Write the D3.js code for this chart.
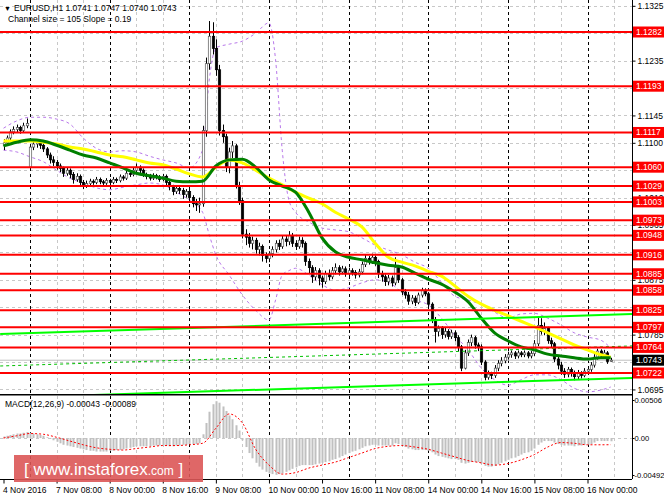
<!DOCTYPE html>
<html><head><meta charset="utf-8">
<script src="https://cdn.jsdelivr.net/npm/d3@7"></script>
<style>body{margin:0;background:#fff}svg{display:block}text{font-family:"Liberation Sans",Arial,sans-serif}</style>
</head><body><svg id="c" width="664" height="498"></svg>
<script>
// ---- data (EURUSD H1, from 4 Nov 2016 16:00) ----
const opens=[1.1095,1.1100,1.1108,1.1118,1.1122,1.1125,1.1120,1.1128,1.1060,1.1093,1.1098,1.1100,1.1096,1.1090,1.1080,1.1072,
1.1068,1.1062,1.1058,1.1050,1.1055,1.1048,1.1040,1.1045,1.1035,1.1030,1.1033,1.1037,1.1035,1.1040,1.1036,1.1034,
1.1038,1.1035,1.1040,1.1038,1.1044,1.1042,1.1050,1.1048,1.1055,1.1060,1.1055,1.1048,1.1045,1.1042,1.1046,1.1044,
1.1040,1.1045,1.1035,1.1028,1.1020,1.1025,1.1022,1.1015,1.1020,1.1010,1.1000,1.0998,1.1000,1.1120,1.1230,1.1275,
1.1255,1.1220,1.1120,1.1110,1.1060,1.1085,1.1095,1.1030,1.1005,1.0950,1.0945,1.0935,1.0940,1.0925,1.0930,1.0915,
1.0910,1.0918,1.0925,1.0935,1.0930,1.0942,1.0938,1.0948,1.0935,1.0930,1.0940,1.0935,1.0905,1.0895,1.0880,1.0890,
1.0878,1.0872,1.0885,1.0880,1.0890,1.0895,1.0888,1.0893,1.0885,1.0890,1.0887,1.0883,1.0888,1.0900,1.0910,1.0905,
1.0912,1.0905,1.0885,1.0880,1.0872,1.0878,1.0870,1.0895,1.0875,1.0855,1.0850,1.0840,1.0845,1.0838,1.0850,1.0858,
1.0852,1.0835,1.0810,1.0790,1.0795,1.0785,1.0790,1.0782,1.0788,1.0780,1.0765,1.0730,1.0755,1.0772,1.0780,1.0768,
1.0765,1.0740,1.0715,1.0720,1.0718,1.0730,1.0738,1.0742,1.0748,1.0752,1.0755,1.0750,1.0755,1.0752,1.0755,1.0750,
1.0754,1.0770,1.0800,1.0790,1.0795,1.0775,1.0770,1.0745,1.0735,1.0725,1.0720,1.0728,1.0722,1.0716,1.0722,1.0718,
1.0725,1.0728,1.0735,1.0748,1.0758,1.0750,1.0755,1.0741];
const highs=[1.1106,1.1112,1.1122,1.1127,1.1130,1.1128,1.1133,1.1140,1.1097,1.1104,1.1106,1.1104,1.1099,1.1093,1.1084,1.1078,
1.1072,1.1066,1.1061,1.1060,1.1058,1.1052,1.1050,1.1048,1.1039,1.1038,1.1041,1.1040,1.1044,1.1043,1.1039,1.1042,
1.1041,1.1044,1.1043,1.1048,1.1047,1.1054,1.1053,1.1060,1.1066,1.1063,1.1058,1.1051,1.1049,1.1050,1.1049,1.1047,
1.1049,1.1048,1.1038,1.1031,1.1030,1.1029,1.1026,1.1024,1.1025,1.1014,1.1008,1.1010,1.1128,1.1240,1.1300,1.1298,
1.1270,1.1228,1.1130,1.1115,1.1092,1.1103,1.1098,1.1036,1.1010,1.0958,1.0952,1.0946,1.0944,1.0936,1.0933,1.0920,
1.0922,1.0930,1.0940,1.0941,1.0948,1.0947,1.0955,1.0952,1.0940,1.0946,1.0945,1.0938,1.0910,1.0899,1.0896,1.0894,
1.0882,1.0890,1.0892,1.0896,1.0902,1.0899,1.0898,1.0897,1.0895,1.0894,1.0891,1.0893,1.0905,1.0916,1.0914,1.0918,
1.0915,1.0908,1.0890,1.0884,1.0883,1.0882,1.0912,1.0899,1.0878,1.0860,1.0855,1.0850,1.0849,1.0854,1.0862,1.0861,
1.0855,1.0838,1.0814,1.0800,1.0799,1.0796,1.0794,1.0793,1.0792,1.0784,1.0768,1.0760,1.0777,1.0785,1.0783,1.0772,
1.0769,1.0743,1.0726,1.0724,1.0735,1.0743,1.0748,1.0753,1.0757,1.0759,1.0758,1.0759,1.0758,1.0759,1.0758,1.0758,
1.0776,1.0815,1.0812,1.0805,1.0798,1.0780,1.0773,1.0750,1.0740,1.0730,1.0732,1.0731,1.0726,1.0727,1.0725,1.0730,
1.0733,1.0740,1.0753,1.0762,1.0761,1.0760,1.0758,1.0747];
const lows=[1.1088,1.1096,1.1104,1.1114,1.1117,1.1115,1.1117,1.1124,1.1055,1.1088,1.1092,1.1090,1.1085,1.1075,1.1066,1.1062,
1.1056,1.1052,1.1044,1.1046,1.1042,1.1033,1.1036,1.1028,1.1024,1.1026,1.1029,1.1031,1.1032,1.1032,1.1030,1.1031,
1.1029,1.1032,1.1034,1.1035,1.1038,1.1039,1.1044,1.1045,1.1052,1.1050,1.1044,1.1040,1.1038,1.1039,1.1040,1.1036,
1.1037,1.1030,1.1022,1.1014,1.1016,1.1016,1.1008,1.1010,1.1003,1.0994,1.0988,1.0985,1.0995,1.1110,1.1220,1.1245,
1.1210,1.1112,1.1100,1.1052,1.1050,1.1075,1.1025,1.0998,1.0943,1.0932,1.0928,1.0925,1.0918,1.0915,1.0905,1.0903,
1.0904,1.0912,1.0920,1.0924,1.0926,1.0930,1.0932,1.0929,1.0924,1.0926,1.0928,1.0898,1.0886,1.0870,1.0874,1.0866,
1.0862,1.0868,1.0874,1.0876,1.0884,1.0882,1.0884,1.0880,1.0880,1.0882,1.0877,1.0879,1.0884,1.0896,1.0900,1.0901,
1.0898,1.0878,1.0872,1.0865,1.0866,1.0864,1.0866,1.0870,1.0850,1.0844,1.0834,1.0835,1.0832,1.0835,1.0846,1.0848,
1.0830,1.0804,1.0772,1.0782,1.0778,1.0780,1.0777,1.0778,1.0774,1.0758,1.0725,1.0728,1.0750,1.0766,1.0762,1.0758,
1.0735,1.0710,1.0711,1.0712,1.0714,1.0725,1.0733,1.0738,1.0744,1.0747,1.0745,1.0746,1.0748,1.0748,1.0746,1.0746,
1.0750,1.0766,1.0785,1.0784,1.0770,1.0764,1.0740,1.0728,1.0719,1.0714,1.0715,1.0716,1.0710,1.0712,1.0713,1.0715,
1.0720,1.0724,1.0731,1.0744,1.0745,1.0746,1.0737,1.0740];
const closes=[1.1100,1.1108,1.1118,1.1122,1.1125,1.1120,1.1128,1.1132,1.1093,1.1098,1.1100,1.1096,1.1090,1.1080,1.1072,1.1068,
1.1062,1.1058,1.1050,1.1055,1.1048,1.1040,1.1045,1.1035,1.1030,1.1033,1.1037,1.1035,1.1040,1.1036,1.1034,1.1038,
1.1035,1.1040,1.1038,1.1044,1.1042,1.1050,1.1048,1.1055,1.1060,1.1055,1.1048,1.1045,1.1042,1.1046,1.1044,1.1040,
1.1045,1.1035,1.1028,1.1020,1.1025,1.1022,1.1015,1.1020,1.1010,1.1000,1.0998,1.1000,1.1120,1.1230,1.1275,1.1255,
1.1220,1.1120,1.1110,1.1060,1.1085,1.1095,1.1030,1.1005,1.0950,1.0945,1.0935,1.0940,1.0925,1.0930,1.0915,1.0910,
1.0918,1.0925,1.0935,1.0930,1.0942,1.0938,1.0948,1.0935,1.0930,1.0940,1.0935,1.0905,1.0895,1.0880,1.0890,1.0878,
1.0872,1.0885,1.0880,1.0890,1.0895,1.0888,1.0893,1.0885,1.0890,1.0887,1.0883,1.0888,1.0900,1.0910,1.0905,1.0912,
1.0905,1.0885,1.0880,1.0872,1.0878,1.0870,1.0895,1.0875,1.0855,1.0850,1.0840,1.0845,1.0838,1.0850,1.0858,1.0852,
1.0835,1.0810,1.0790,1.0795,1.0785,1.0790,1.0782,1.0788,1.0780,1.0765,1.0730,1.0755,1.0772,1.0780,1.0768,1.0765,
1.0740,1.0715,1.0720,1.0718,1.0730,1.0738,1.0742,1.0748,1.0752,1.0755,1.0750,1.0755,1.0752,1.0755,1.0750,1.0754,
1.0770,1.0800,1.0790,1.0795,1.0775,1.0770,1.0745,1.0735,1.0725,1.0720,1.0728,1.0722,1.0716,1.0722,1.0718,1.0725,
1.0728,1.0735,1.0748,1.0758,1.0750,1.0755,1.0741,1.0743];

// indicator readings, sampled every 4 bars
const indBars=[0,4,8,12,16,20,24,28,32,36,40,44,48,52,56,60,64,68,72,76,80,84,88,92,96,100,104,108,112,116,120,124,128,132,136,140,144,148,152,156,160,164,168,172,176,180,183];
const sma30=[1.1095,1.1101,1.1105,1.1103,1.1096,1.1088,1.1080,1.1075,1.1067,1.1059,1.1050,1.1046,1.1042,1.1037,1.1036,1.1037,1.1062,1.1072,1.1073,1.1060,1.1039,1.1029,1.1019,1.0986,1.0944,1.0921,1.0912,1.0908,1.0903,1.0899,1.0896,1.0886,1.0876,1.0868,1.0855,1.0839,1.0812,1.0788,1.0775,1.0765,1.0760,1.0753,1.0750,1.0747,1.0745,1.0747,1.0747];
const sma50=[1.1103,1.1103,1.1103,1.1101,1.1098,1.1093,1.1090,1.1085,1.1080,1.1077,1.1072,1.1067,1.1064,1.1057,1.1049,1.1044,1.1060,1.1072,1.1067,1.1055,1.1042,1.1031,1.1019,1.1009,1.1000,1.0986,1.0975,1.0962,1.0935,1.0912,1.0904,1.0898,1.0889,1.0881,1.0865,1.0848,1.0835,1.0825,1.0816,1.0807,1.0798,1.0788,1.0778,1.0768,1.0760,1.0752,1.0748];
const bbBars=[0,4,8,12,16,20,24,28,32,36,40,44,48,52,56,60,62,64,68,72,76,80,82,84,86,88,92,96,100,104,108,112,116,120,124,128,132,136,140,144,148,152,156,160,164,168,172,176,180,183];
const bbUpper=[1.1124,1.1136,1.1142,1.1142,1.1139,1.1131,1.1108,1.1091,1.1085,1.1087,1.1085,1.1078,1.1072,1.1067,1.1059,1.1088,1.1203,1.1256,1.1262,1.1267,1.1280,1.1297,1.1236,1.1088,1.1006,1.0986,1.0970,1.0960,1.0957,1.0954,1.0944,1.0932,1.0924,1.0916,1.0904,1.0894,1.0871,1.0848,1.0842,1.0834,1.0822,1.0812,1.0819,1.0820,1.0812,1.0801,1.0788,1.0781,1.0776,1.0763];
const bbLower=[1.1088,1.1085,1.1077,1.1069,1.1055,1.1042,1.1034,1.1026,1.1023,1.1027,1.1031,1.1034,1.1031,1.1019,1.1006,1.0986,1.0949,1.0916,1.0883,1.0850,1.0825,1.0809,1.0842,1.0883,1.0890,1.0894,1.0883,1.0867,1.0858,1.0862,1.0870,1.0875,1.0871,1.0855,1.0842,1.0834,1.0812,1.0784,1.0760,1.0730,1.0711,1.0702,1.0711,1.0719,1.0719,1.0711,1.0697,1.0691,1.0694,1.0699];
const macdMain=[0.0002,0.0003,0.0004,0.0005,0.0006,0.0006,0.0007,0.0008,0.0007,0.0006,0.0005,0.0004,0.0003,0.0001,-0.0001,-0.0003,
-0.0005,-0.0007,-0.0009,-0.0010,-0.0011,-0.0012,-0.0013,-0.0014,-0.0015,-0.0016,-0.0017,-0.0017,-0.0018,-0.0018,-0.0018,-0.0018,
-0.0017,-0.0017,-0.0016,-0.0016,-0.0015,-0.0014,-0.0013,-0.0012,-0.0011,-0.0011,-0.0011,-0.0011,-0.0011,-0.0010,-0.0010,-0.0010,
-0.0010,-0.0010,-0.0011,-0.0011,-0.0010,-0.0010,-0.0009,-0.0009,-0.0008,-0.0008,-0.0008,-0.0007,0.0005,0.0020,0.0035,0.0045,
0.0049,0.0047,0.0042,0.0036,0.0030,0.0025,0.0017,0.0010,-0.0003,-0.0012,-0.0020,-0.0027,-0.0033,-0.0038,-0.0042,-0.0045,
-0.0047,-0.0048,-0.0049,-0.0048,-0.0047,-0.0045,-0.0043,-0.0041,-0.0039,-0.0037,-0.0036,-0.0036,-0.0036,-0.0036,-0.0035,-0.0034,
-0.0033,-0.0032,-0.0031,-0.0029,-0.0028,-0.0026,-0.0024,-0.0022,-0.0020,-0.0018,-0.0017,-0.0015,-0.0013,-0.0011,-0.0010,-0.0009,
-0.0009,-0.0010,-0.0010,-0.0010,-0.0010,-0.0010,-0.0007,-0.0008,-0.0010,-0.0012,-0.0014,-0.0015,-0.0016,-0.0016,-0.0016,-0.0016,
-0.0017,-0.0019,-0.0022,-0.0024,-0.0025,-0.0026,-0.0027,-0.0028,-0.0028,-0.0029,-0.0033,-0.0034,-0.0033,-0.0032,-0.0032,-0.0032,
-0.0034,-0.0037,-0.0038,-0.0038,-0.0037,-0.0035,-0.0033,-0.0031,-0.0029,-0.0027,-0.0026,-0.0024,-0.0022,-0.0020,-0.0019,-0.0017,
-0.0014,-0.0009,-0.0006,-0.0004,-0.0004,-0.0004,-0.0006,-0.0008,-0.0009,-0.0010,-0.0010,-0.0010,-0.0011,-0.0010,-0.0010,-0.0009,
-0.0009,-0.0008,-0.0006,-0.0004,-0.0004,-0.0004,-0.0004,-0.00043];
const macdSignal=[0.0000,0.0003,0.0006,0.0005,0.0001,-0.0004,-0.0009,-0.0013,-0.0015,-0.0016,-0.0014,-0.0012,-0.0010,-0.0010,-0.0009,-0.0007,0.0013,0.0032,0.0020,-0.0015,-0.0036,-0.0048,-0.0046,-0.0040,-0.0036,-0.0032,-0.0026,-0.0020,-0.0014,-0.0011,-0.0010,-0.0012,-0.0015,-0.0020,-0.0025,-0.0030,-0.0033,-0.0036,-0.0034,-0.0029,-0.0022,-0.0012,-0.0006,-0.0007,-0.0009,-0.0009,-0.00089];

const levels=[1.1282,1.1193,1.1117,1.1060,1.1029,1.1003,1.0973,1.0948,1.0916,1.0885,1.0858,1.0825,1.0797,1.0764,1.0722];
const priceTicks=[1.1325,1.1280,1.1235,1.1190,1.1145,1.1100,1.1055,1.1010,1.0965,1.0920,1.0875,1.0830,1.0785,1.0740,1.0695];
const lastPrice=1.0743;
const timeLabels=["4 Nov 2016","7 Nov 08:00","8 Nov 00:00","8 Nov 16:00","9 Nov 08:00","10 Nov 00:00","10 Nov 16:00","11 Nov 08:00","14 Nov 00:00","14 Nov 16:00","15 Nov 08:00","16 Nov 00:00"];
const timeLabelBars=[0,16,32,48,64,80,96,112,128,144,160,176];
const separatorBars=[8,32,56,80,104,128,152,176];
const gridBars=[16,24,40,48,64,72,88,96,112,120,136,144,160,168,184];
const channelBars=[-1,189.5];
const channelUpper=[1.0786,1.0819];
const channelMid=[1.07335,1.07665];
const channelLower=[1.0681,1.0714];
const macdTicks=[0.00506,0,-0.00492];
const macdTickLabels=["0.00506","0.00","-0.00492"];

// ---- layout ----
const svg=d3.select("#c");
const L=0,R=632,T=0,MB=394,ST=396,SB=479;
const x=d3.scaleLinear().domain([0,176]).range([3.5,587.5]);
const y=d3.scaleLinear().domain([1.0722,1.1282]).range([373,32]);
const my=d3.scaleLinear().domain([-0.00492,0.00506]).range([475,400]);

svg.append("defs").append("clipPath").attr("id","mc").append("rect").attr("x",L).attr("y",T).attr("width",R-L).attr("height",MB-T);
svg.select("defs").append("clipPath").attr("id","sc").append("rect").attr("x",L).attr("y",ST).attr("width",R-L).attr("height",SB-ST);
const main=svg.append("g").attr("clip-path","url(#mc)");
const sub=svg.append("g").attr("clip-path","url(#sc)");

// grids
main.selectAll(".hg").data(priceTicks).join("line").attr("x1",L).attr("x2",R).attr("y1",d=>Math.round(y(d))+0.5).attr("y2",d=>Math.round(y(d))+0.5).attr("stroke","#c8c8c8").attr("stroke-dasharray","3,3");
[main,sub].forEach((g,k)=>{
  const y1=k?ST:T,y2=k?SB:MB;
  g.selectAll(".vg").data(gridBars).join("line").attr("x1",d=>Math.round(x(d))+0.5).attr("x2",d=>Math.round(x(d))+0.5).attr("y1",y1).attr("y2",y2).attr("stroke","#c8c8c8").attr("stroke-dasharray","3,3");
  g.selectAll(".sep").data(separatorBars).join("line").attr("x1",d=>Math.round(x(d))+0.5).attr("x2",d=>Math.round(x(d))+0.5).attr("y1",y1).attr("y2",y2).attr("stroke","#000").attr("stroke-dasharray","3,3");
});
sub.append("line").attr("x1",L).attr("x2",R).attr("y1",Math.round(my(0))+0.5).attr("y2",Math.round(my(0))+0.5).attr("stroke","#c8c8c8").attr("stroke-dasharray","3,3");

// bid line
main.append("line").attr("x1",L).attr("x2",R).attr("y1",y(lastPrice)).attr("y2",y(lastPrice)).attr("stroke","#c0c0c0");

// bollinger
const bbLine=d3.line().x((d,i)=>x(bbBars[i])).y(d=>y(d)).curve(d3.curveMonotoneX);
[bbUpper,bbLower].forEach(a=>main.append("path").attr("d",bbLine(a)).attr("fill","none").attr("stroke","#b878ea").attr("stroke-width",1).attr("stroke-dasharray","3,3"));

// candles
const idx=d3.range(closes.length);
const cg=main.append("g");
cg.selectAll(".w").data(idx).join("line").attr("x1",i=>Math.round(x(i))+0.5).attr("x2",i=>Math.round(x(i))+0.5).attr("y1",i=>y(highs[i])).attr("y2",i=>y(lows[i])).attr("stroke","#000").attr("stroke-width",1);
cg.selectAll(".b").data(idx).join("rect")
  .attr("x",i=>Math.round(x(i))-0.7).attr("width",2.4)
  .attr("y",i=>y(Math.max(opens[i],closes[i]))).attr("height",i=>Math.max(1,Math.abs(y(opens[i])-y(closes[i]))))
  .attr("fill",i=>closes[i]>=opens[i]?"#fff":"#000").attr("stroke",i=>closes[i]>=opens[i]?"#555":"#000").attr("stroke-width",0.7);

// moving averages
const maLine=d3.line().x((d,i)=>x(indBars[i])).y(d=>y(d)).curve(d3.curveMonotoneX);
main.append("path").attr("d",maLine(sma50)).attr("fill","none").attr("stroke","#ffff00").attr("stroke-width",3);
main.append("path").attr("d",maLine(sma30)).attr("fill","none").attr("stroke","#008000").attr("stroke-width",3);

// regression channel
const chLine=d3.line().x((d,i)=>x(channelBars[i])).y(d=>y(d));
main.append("path").attr("d",chLine(channelUpper)).attr("stroke","#00ff00").attr("stroke-width",2);
main.append("path").attr("d",chLine(channelLower)).attr("stroke","#00ff00").attr("stroke-width",2);
main.append("path").attr("d",chLine(channelMid)).attr("stroke","#00c000").attr("stroke-width",1).attr("stroke-dasharray","3,3");

// levels
main.selectAll(".lv").data(levels).join("line").attr("x1",L).attr("x2",R).attr("y1",d=>y(d)).attr("y2",d=>y(d)).attr("stroke","#ff0000").attr("stroke-width",2);

// macd
sub.selectAll(".h").data(idx).join("rect").attr("x",i=>Math.round(x(i))-0.5).attr("width",2)
  .attr("y",i=>Math.min(my(0),my(macdMain[i]))).attr("height",i=>Math.abs(my(macdMain[i])-my(0)))
  .attr("fill","#c0c0c0");
const sigLine=d3.line().x((d,i)=>x(indBars[i])).y(d=>my(d)).curve(d3.curveMonotoneX);
sub.append("path").attr("d",sigLine(macdSignal)).attr("fill","none").attr("stroke","#ff0000").attr("stroke-width",1).attr("stroke-dasharray","2,2");

// frames
svg.append("line").attr("x1",R+0.5).attr("x2",R+0.5).attr("y1",0).attr("y2",SB).attr("stroke","#000");
svg.append("line").attr("x1",0).attr("x2",R).attr("y1",MB+0.5).attr("y2",MB+0.5).attr("stroke","#000");
svg.append("line").attr("x1",0).attr("x2",R).attr("y1",ST-0.5).attr("y2",ST-0.5).attr("stroke","#808080");
svg.append("line").attr("x1",0).attr("x2",R).attr("y1",SB+0.5).attr("y2",SB+0.5).attr("stroke","#000");

// axes (labels fully covered by a level/price box are not printed)
const fs="8.5px";
const covered=v=>levels.concat([lastPrice]).some(l=>Math.abs(y(l)-y(v))<4);
const ay=svg.append("g").attr("transform",`translate(${R+0.5},0)`).call(d3.axisRight(y).tickValues(priceTicks).tickFormat(d=>covered(d)?"":d3.format(".4f")(d)).tickSize(3).tickPadding(2));
ay.select(".domain").remove();
ay.selectAll("text").filter(function(){return this.textContent==="";}).remove();
ay.selectAll("text").attr("font-size",fs).attr("fill","#000");
const am=svg.append("g").attr("transform",`translate(${R+0.5},0)`).call(d3.axisRight(my).tickValues(macdTicks).tickFormat((d,i)=>macdTickLabels[i]).tickSize(2).tickPadding(0));
am.select(".domain").remove();
am.selectAll("text").attr("font-size","7.6px").attr("fill","#000");
const ax=svg.append("g").attr("transform",`translate(0,${SB+0.5})`).call(d3.axisBottom(x).tickValues(timeLabelBars).tickFormat((d,i)=>timeLabels[i]).tickSize(4).tickPadding(3));
ax.select(".domain").remove();
ax.selectAll("text").attr("font-size",fs).attr("fill","#000").attr("text-anchor","start").attr("dx","-1");

// level labels
const lab=svg.append("g");
levels.forEach(v=>{
  const yy=y(v);
  lab.append("rect").attr("x",R+1).attr("y",yy-5.5).attr("width",31).attr("height",11).attr("fill","#ff0000");
  lab.append("text").attr("x",R+4).attr("y",yy+3).attr("font-size",fs).attr("fill","#fff").text(d3.format(".4f")(v));
});
lab.append("rect").attr("x",R+1).attr("y",y(lastPrice)-5.5).attr("width",31).attr("height",11).attr("fill","#000");
lab.append("text").attr("x",R+4).attr("y",y(lastPrice)+3).attr("font-size",fs).attr("fill","#fff").text(d3.format(".4f")(lastPrice));

// header texts
svg.append("text").attr("x",4).attr("y",11).attr("font-size","7px").text("▼");
svg.append("text").attr("x",14).attr("y",11).attr("font-size",fs).text("EURUSD,H1  1.0741 1.0747 1.0740 1.0743");
svg.append("text").attr("x",8).attr("y",22).attr("font-size",fs).text("Channel size = 105 Slope = 0.19");
svg.append("text").attr("x",5).attr("y",407).attr("font-size",fs).text("MACD(12,26,9) -0.00043 -0.00089");

// watermark
const wm=svg.append("g");
wm.append("rect").attr("x",14).attr("y",455).attr("width",189).attr("height",27).attr("fill","#dc5656").attr("opacity",0.9);
const wt=wm.append("text").attr("x",24).attr("y",475).attr("fill","#fff").attr("font-family","DejaVu Sans, sans-serif");
wt.append("tspan").attr("font-size","17px").text("[ ");
wt.append("tspan").attr("font-size","17px").text("www.instaforex");
wt.append("tspan").attr("font-size","12px").text(".com");
wt.append("tspan").attr("font-size","17px").text(" ]");
</script></body></html>
